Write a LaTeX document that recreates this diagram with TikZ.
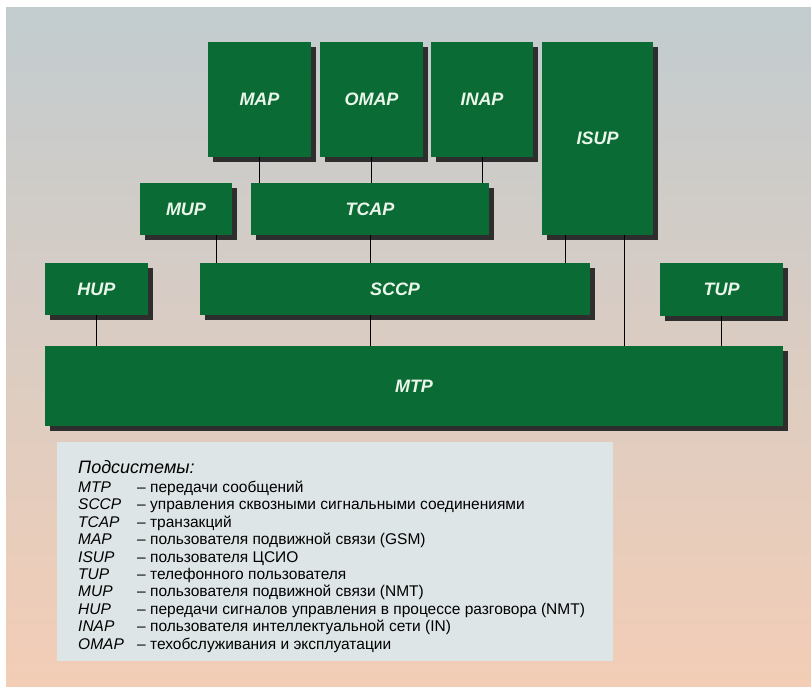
\documentclass[tikz,border=0pt]{standalone}
\usepackage{fontspec}
\setmainfont{Liberation Sans}
\definecolor{boxgreen}{HTML}{0B6B35}
\definecolor{shadowgray}{HTML}{2E2E2E}
\definecolor{bgtop}{HTML}{C2CCCF}
\definecolor{bgmid}{HTML}{D4D1D1}
\definecolor{bgbot}{HTML}{F3CDB6}
\definecolor{legendfill}{HTML}{DEE5E7}
\definecolor{labelwhite}{HTML}{EAF6EA}
\tikzset{
  blk/.style={fill=boxgreen, draw=none, inner sep=0pt, text=labelwhite,
    font=\fontsize{18}{18}\selectfont\bfseries\itshape},
  conn/.style={draw=black, line width=1pt},
  abbr/.style={anchor=base west, inner sep=0pt, font=\fontsize{15.5}{15.5}\selectfont\itshape},
  desc/.style={anchor=base west, inner sep=0pt, font=\fontsize{15.5}{15.5}\selectfont}
}
\newcommand{\blkshadow}[1]{\fill[shadowgray] ([shift={(5,5)}]#1.north west) rectangle ([shift={(5,5)}]#1.south east);}
\begin{document}
\begin{tikzpicture}[x=1pt,y=-1pt]
\useasboundingbox (0,0) rectangle (811,693);
\fill[white] (0,0) rectangle (811,693);
\shade[top color=bgtop, middle color=bgmid, bottom color=bgbot] (6,8) rectangle (811,686);
% block positions (named), shadows first, then blocks
\coordinate (pMAP) at (259.5,99.5);
\coordinate (pOMAP) at (371.5,99.5);
\coordinate (pINAP) at (482,99.5);
\coordinate (pISUP) at (597.5,138.5);
\coordinate (pMUP) at (186,209);
\coordinate (pTCAP) at (370,209);
\coordinate (pHUP) at (96.5,289);
\coordinate (pSCCP) at (395,289);
\coordinate (pTUP) at (721.5,289.5);
\coordinate (pMTP) at (414,386);
\begin{scope}[every node/.style={fill=shadowgray, draw=none, inner sep=0pt}]
\node[minimum width=103, minimum height=115] (sMAP) at ([shift={(5,5)}]pMAP) {};
\node[minimum width=103, minimum height=115] (sOMAP) at ([shift={(5,5)}]pOMAP) {};
\node[minimum width=102, minimum height=115] (sINAP) at ([shift={(5,5)}]pINAP) {};
\node[minimum width=111, minimum height=193] (sISUP) at ([shift={(5,5)}]pISUP) {};
\node[minimum width=92, minimum height=52] (sMUP) at ([shift={(5,5)}]pMUP) {};
\node[minimum width=238, minimum height=52] (sTCAP) at ([shift={(5,5)}]pTCAP) {};
\node[minimum width=103, minimum height=52] (sHUP) at ([shift={(5,5)}]pHUP) {};
\node[minimum width=390, minimum height=52] (sSCCP) at ([shift={(5,5)}]pSCCP) {};
\node[minimum width=123, minimum height=53] (sTUP) at ([shift={(5,5)}]pTUP) {};
\node[minimum width=738, minimum height=80] (sMTP) at ([shift={(5,5)}]pMTP) {};
\end{scope}
\node[blk, minimum width=103, minimum height=115] (MAP) at (pMAP) {MAP};
\node[blk, minimum width=103, minimum height=115] (OMAP) at (pOMAP) {OMAP};
\node[blk, minimum width=102, minimum height=115] (INAP) at (pINAP) {INAP};
\node[blk, minimum width=111, minimum height=193] (ISUP) at (pISUP) {ISUP};
\node[blk, minimum width=92, minimum height=52] (MUP) at (pMUP) {MUP};
\node[blk, minimum width=238, minimum height=52] (TCAP) at (pTCAP) {TCAP};
\node[blk, minimum width=103, minimum height=52] (HUP) at (pHUP) {HUP};
\node[blk, minimum width=390, minimum height=52] (SCCP) at (pSCCP) {SCCP};
\node[blk, minimum width=123, minimum height=53] (TUP) at (pTUP) {TUP};
\node[blk, minimum width=738, minimum height=80] (MTP) at (pMTP) {MTP};
% connectors
\draw[conn] (MAP.south) -- (MAP.south |- TCAP.north);
\draw[conn] (OMAP.south) -- (OMAP.south |- TCAP.north);
\draw[conn] (INAP.south) -- (INAP.south |- TCAP.north);
\draw[conn] ([xshift=-16]MUP.south east) -- ([xshift=-16]MUP.south east |- SCCP.north);
\draw[conn] (TCAP.south) -- (TCAP.south |- SCCP.north);
\draw[conn] ([xshift=24]ISUP.south west) -- ([xshift=24]ISUP.south west |- SCCP.north);
\draw[conn] ([xshift=-29]ISUP.south east) -- ([xshift=-29]ISUP.south east |- MTP.north);
\draw[conn] (HUP.south) -- (HUP.south |- MTP.north);
\draw[conn] ([xshift=-25]SCCP.south) -- ([xshift=-25]SCCP.south |- MTP.north);
\draw[conn] (TUP.south) -- (TUP.south |- MTP.north);
% legend
\fill[legendfill] (57,442) rectangle (613,661);
\node[anchor=base west, inner sep=0pt, font=\fontsize{18}{18}\selectfont\itshape] (title) at (78,473) {Подсистемы:};
\foreach \i/\a/\d in {0/MTP/{– передачи сообщений},
  1/SCCP/{– управления сквозными сигнальными соединениями},
  2/TCAP/{– транзакций},
  3/MAP/{– пользователя подвижной связи (GSM)},
  4/ISUP/{– пользователя ЦСИО},
  5/TUP/{– телефонного пользователя},
  6/MUP/{– пользователя подвижной связи (NMT)},
  7/HUP/{– передачи сигналов управления в процессе разговора (NMT)},
  8/INAP/{– пользователя интеллектуальной сети (IN)},
  9/OMAP/{– техобслуживания и эксплуатации}}{
  \node[abbr] (a\i) at (78,492.5+17.4*\i) {\a};
  \node[desc] (d\i) at (137,492.5+17.4*\i) {\d};
}
\end{tikzpicture}
\end{document}
